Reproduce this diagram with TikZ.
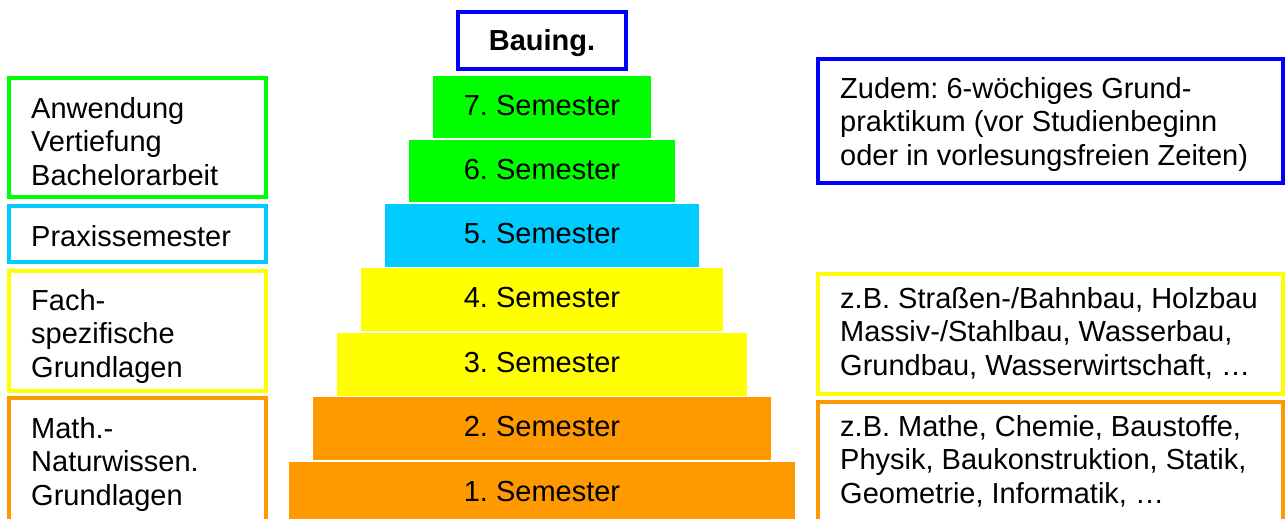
\documentclass[tikz,border=0pt]{standalone}
\usepackage{fontspec}
\setmainfont{Liberation Sans}
\frenchspacing
\definecolor{cgreen}{HTML}{00FF00}
\definecolor{ccyan}{HTML}{00CCFF}
\definecolor{cyellow}{HTML}{FFFF00}
\definecolor{corange}{HTML}{FF9900}
\definecolor{cblue}{HTML}{0000FF}
\begin{document}
\begin{tikzpicture}[x=1pt,y=-1pt,
  bigfont/.style={font=\fontsize{29}{33.5}\selectfont\frenchspacing},
  bar/.style={rectangle, inner sep=0pt, bigfont, text height=21pt, text depth=5pt},
  frame/.style={rectangle, draw, line width=4pt, inner sep=0pt},
  lbl/.style={anchor=north west, inner sep=0pt, align=left, bigfont}]
\useasboundingbox (0,0) rectangle (1285,519);
\clip (0,0) rectangle (1285,519);

% left frames
\node[frame, draw=cgreen, minimum width=257pt, minimum height=119pt] (lg) at (137.5,137.5) {};
\node[frame, draw=ccyan, minimum width=257pt, minimum height=56pt] (lc) at (137.5,234) {};
\node[frame, draw=cyellow, minimum width=257pt, minimum height=120pt] (ly) at (137.5,331) {};
\node[frame, draw=corange, minimum width=257pt, minimum height=142pt] (lo) at (137.5,469) {};

% right frames
\node[frame, draw=cblue, minimum width=465pt, minimum height=124pt] (rz) at (1050.5,121) {};
\node[frame, draw=cyellow, minimum width=465pt, minimum height=120pt] (ry) at (1050.5,334) {};
\node[frame, draw=corange, minimum width=465pt, minimum height=138pt] (ro) at (1050.5,471) {};

% title
\node[frame, draw=cblue, minimum width=168pt, minimum height=57pt, bigfont, text height=21pt, text depth=0pt] (bau) at (542,40.5) {\bfseries Bauing.};

% pyramid
\node[bar, fill=cgreen, minimum width=218pt, minimum height=62pt] (s7) at (542,107) {7. Semester};
\node[bar, fill=cgreen, minimum width=266pt, minimum height=62pt] (s6) at (542,171) {6. Semester};
\node[bar, fill=ccyan, minimum width=314pt, minimum height=63pt] (s5) at (542,235.5) {5. Semester};
\node[bar, fill=cyellow, minimum width=362pt, minimum height=63pt] (s4) at (542,299.5) {4. Semester};
\node[bar, fill=cyellow, minimum width=410pt, minimum height=63pt] (s3) at (542,364.5) {3. Semester};
\node[bar, fill=corange, minimum width=458pt, minimum height=63pt] (s2) at (542,428.5) {2. Semester};
\node[bar, fill=corange, minimum width=506pt, minimum height=63pt] (s1) at (542,493.5) {1. Semester};

% left texts
\node[lbl] (tg) at (31,97) {Anwendung\\Vertiefung\\Bachelorarbeit};
\node[lbl] (tc) at (31,225) {Praxissemester};
\node[lbl] (ty) at (31,289) {Fach-\\spezifische\\Grundlagen};
\node[lbl] (to) at (31,417) {Math.-\\Naturwissen.\\Grundlagen};

% right texts
\node[lbl] (tz) at (840,77) {Zudem: 6-wöchiges Grund-\\praktikum (vor Studienbeginn\\oder in vorlesungsfreien Zeiten)};
\node[lbl] (tfy) at (840,287) {z.B. Straßen-/Bahnbau, Holzbau\\Massiv-/Stahlbau, Wasserbau,\\Grundbau, Wasserwirtschaft, …};
\node[lbl] (tfo) at (840,415) {z.B. Mathe, Chemie, Baustoffe,\\Physik, Baukonstruktion, Statik,\\Geometrie, Informatik, …};
\end{tikzpicture}
\end{document}
